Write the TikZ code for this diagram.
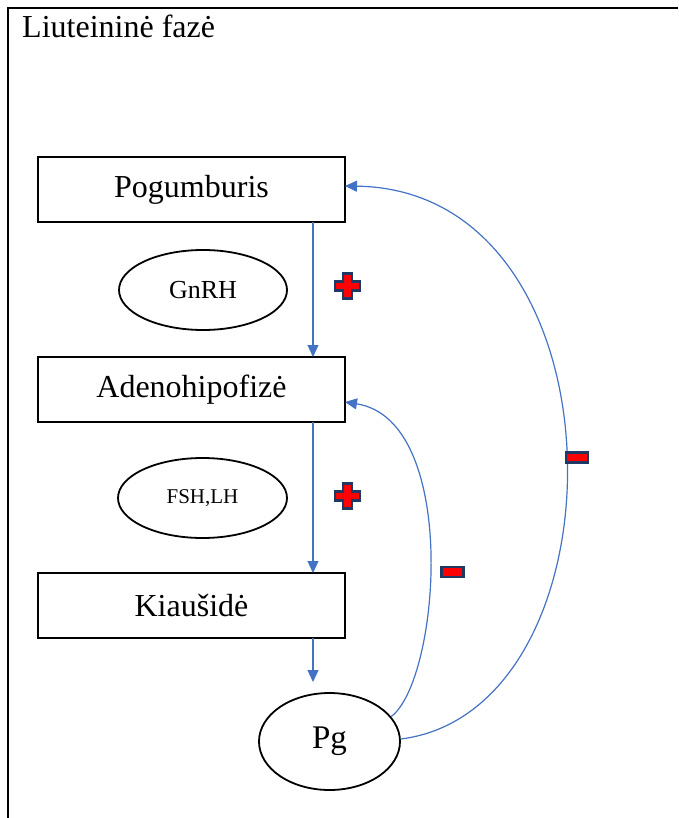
\documentclass[tikz,border=0pt]{standalone}
\usepackage{fontspec}
\setmainfont{Liberation Serif}
\usetikzlibrary{shapes.geometric, arrows.meta, positioning, calc}
\definecolor{lineblue}{HTML}{4472C4}
\definecolor{signnavy}{HTML}{1F3864}
\tikzset{
  organ/.style={draw, line width=1.8pt, minimum width=307pt, minimum height=65pt,
    inner sep=0pt, font=\fontsize{32}{36}\selectfont},
  hormone/.style={draw, ellipse, line width=1.8pt, inner sep=0pt},
  flow/.style={draw=lineblue, line width=1.2pt, -{Triangle[length=12pt, width=11pt]}},
  sign/.style={fill=red, draw=signnavy, line width=2.2pt, line join=miter}
}
\newcommand{\plussign}[1]{%
  \filldraw[sign] ($(#1)+(-4.5,-12.5)$) -- ++(9,0) -- ++(0,8) -- ++(8,0) -- ++(0,9)
    -- ++(-8,0) -- ++(0,8) -- ++(-9,0) -- ++(0,-8) -- ++(-8,0) -- ++(0,-9)
    -- ++(8,0) -- cycle;}
\newcommand{\minussign}[1]{%
  \filldraw[sign] ($(#1)+(-11,-5)$) rectangle ++(22,10);}
\begin{document}
\begin{tikzpicture}[x=1pt, y=-1pt, >=latex]
\useasboundingbox (0,0) rectangle (678,818);
% frame
\draw[line width=1.8pt] (8,818) -- (8,8) -- (678,8);
\node[anchor=base west, inner sep=0pt, font=\fontsize{32}{36}\selectfont] (title) at (22,38) {Liuteininė fazė};
% organs
\node[organ] (hyp) at (191.5,189.5) {Pogumburis};
\node[organ] (adeno) at (191.5,389.5) {Adenohipofizė};
\node[organ] (ovary) at (191.5,605.5) {Kiaušidė};
% hormones
\node[hormone, minimum width=168pt, minimum height=80pt, font=\fontsize{26}{30}\selectfont] (gnrh) at (203,290) {GnRH};
\node[hormone, minimum width=169pt, minimum height=80pt, font=\fontsize{21}{25}\selectfont] (fshlh) at (202.5,498) {FSH,LH};
\node[hormone, minimum width=141pt, minimum height=97pt, font=\fontsize{33}{37}\selectfont] (pg) at (329.5,741.5) {Pg};
% stimulation
\coordinate (a1) at (313,222);
\coordinate (a2) at (313,357);
\coordinate (b1) at (313,422);
\coordinate (b2) at (313,573);
\coordinate (c1) at (313,638);
\coordinate (c2) at (313,682);
\draw[flow] (a1) -- (a2);
\draw[flow] (b1) -- (b2);
\draw[flow] (c1) -- (c2);
% feedback
\coordinate (fa) at (345,402);
\coordinate (fh) at (345,186);
\draw[flow] (pg.22) .. controls (440,680) and (460,420) .. (fa);
\draw[flow] (pg.2) .. controls (630,710) and (630,190) .. (fh);
% signs
\plussign{347.5,286}
\plussign{347.5,496}
\minussign{452.5,572}
\minussign{577,457.5}
\end{tikzpicture}
\end{document}
